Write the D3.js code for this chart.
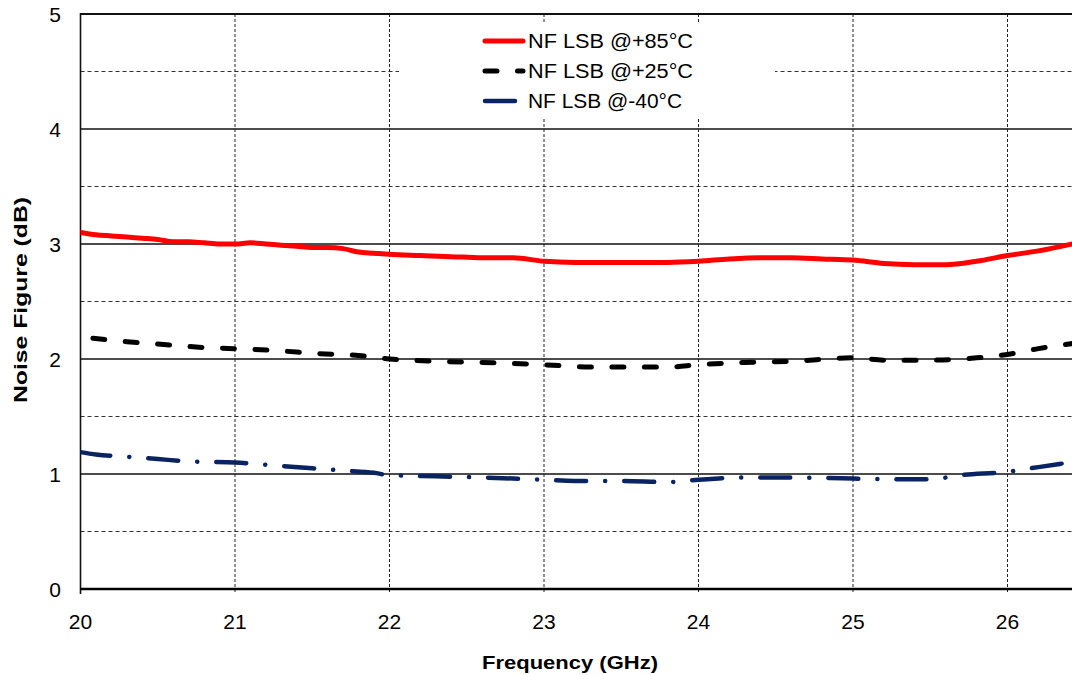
<!DOCTYPE html>
<html><head><meta charset="utf-8">
<script src="https://cdn.jsdelivr.net/npm/d3@7"></script>
<style>body{margin:0;background:#fff}svg{display:block}text{font-family:"Liberation Sans",Arial,sans-serif}</style>
</head><body><svg id="c" width="1072" height="675"></svg>
<script>
const xTicks = [20,21,22,23,24,25,26];
const yTicks = [0,1,2,3,4,5];
const yMinor = [0.5,1.5,2.5,3.5,4.5];
const seriesNames = ["NF LSB @+85°C","NF LSB @+25°C","NF LSB @-40°C"];
const freq85 = [20.0,20.1,20.2,20.3,20.4,20.5,20.6,20.7,20.8,20.9,21.0,21.1,21.2,21.3,21.4,21.5,21.6,21.7,21.8,21.9,22.0,22.2,22.4,22.6,22.8,23.0,23.2,23.4,23.6,23.8,24.0,24.2,24.4,24.6,24.8,25.0,25.2,25.4,25.6,25.8,26.0,26.2,26.45];
const nf85 = [3.10,3.08,3.07,3.06,3.05,3.04,3.02,3.02,3.01,3.00,3.00,3.01,3.00,2.99,2.98,2.97,2.97,2.96,2.93,2.92,2.91,2.90,2.89,2.88,2.88,2.85,2.84,2.84,2.84,2.84,2.85,2.87,2.88,2.88,2.87,2.86,2.83,2.82,2.82,2.85,2.90,2.94,3.01];
const freq25 = [20.08,20.3,20.5,20.8,21.0,21.3,21.5,21.8,22.0,22.3,22.6,23.0,23.3,23.8,24.0,24.3,24.6,25.0,25.2,25.5,25.8,26.0,26.2,26.45];
const nf25 = [2.18,2.15,2.13,2.10,2.09,2.07,2.05,2.03,2.00,1.98,1.97,1.95,1.93,1.93,1.95,1.97,1.98,2.01,1.99,1.99,2.01,2.04,2.09,2.14];
const freq40 = [20.0,20.1,20.3,20.5,20.7,21.0,21.3,21.5,21.7,21.9,22.0,22.3,22.6,23.0,23.2,23.5,23.8,24.0,24.3,24.6,25.0,25.3,25.5,25.7,26.0,26.2,26.45];
const nf40 = [1.19,1.17,1.15,1.13,1.11,1.10,1.07,1.05,1.03,1.01,0.99,0.98,0.97,0.95,0.94,0.94,0.93,0.95,0.97,0.97,0.96,0.955,0.955,0.99,1.02,1.06,1.11];

const svg = d3.select("#c");
const x = d3.scaleLinear().domain([20,26.5]).range([80.5,1084.75]);
const y = d3.scaleLinear().domain([0,5]).range([589,14]);

// minor horizontal dashed
svg.append("g").selectAll("line").data(yMinor).join("line")
  .attr("x1",x(20)).attr("x2",1072).attr("y1",d=>y(d)).attr("y2",d=>y(d))
  .attr("stroke","#333").attr("stroke-width",1).attr("stroke-dasharray","4,3");
// major horizontal solid
svg.append("g").selectAll("line").data(yTicks.filter(d=>d>0&&d<5)).join("line")
  .attr("x1",x(20)).attr("x2",1072).attr("y1",d=>y(d)).attr("y2",d=>y(d))
  .attr("stroke","#111").attr("stroke-width",1.3);
// vertical dashed
svg.append("g").selectAll("line").data(xTicks.slice(1)).join("line")
  .attr("x1",d=>x(d)).attr("x2",d=>x(d)).attr("y1",y(5)).attr("y2",y(0)+5)
  .attr("stroke","#222").attr("stroke-width",1).attr("stroke-dasharray","3,2");
// top border
svg.append("line").attr("x1",x(20)).attr("x2",1072).attr("y1",y(5)).attr("y2",y(5)).attr("stroke","#111").attr("stroke-width",2);
// left axis
svg.append("line").attr("x1",x(20)).attr("x2",x(20)).attr("y1",y(5)-1).attr("y2",y(0)+5).attr("stroke","#111").attr("stroke-width",1.6);
// bottom axis
svg.append("line").attr("x1",x(20)).attr("x2",1072).attr("y1",y(0)).attr("y2",y(0)).attr("stroke","#000").attr("stroke-width",2.6);

// tick labels
svg.append("g").selectAll("text").data(yTicks).join("text")
  .attr("x",61).attr("y",d=>y(d)+7.5).attr("text-anchor","end").attr("font-size",21).attr("fill","#000").text(d=>d);
svg.append("g").selectAll("text").data(xTicks).join("text")
  .attr("x",d=>x(d)).attr("y",629).attr("text-anchor","middle").attr("font-size",21).attr("fill","#000").text(d=>d);

// axis titles
svg.append("text").attr("x",570).attr("y",669).attr("text-anchor","middle").attr("font-size",19).attr("font-weight","bold")
  .attr("textLength",176).attr("lengthAdjust","spacingAndGlyphs").text("Frequency (GHz)");
svg.append("text").attr("transform","translate(27,300) rotate(-90)").attr("text-anchor","middle").attr("font-size",19).attr("font-weight","bold")
  .attr("textLength",206).attr("lengthAdjust","spacingAndGlyphs").text("Noise Figure (dB)");

// legend background
svg.append("rect").attr("x",399).attr("y",22).attr("width",376).attr("height",95).attr("fill","#fff");

const styles = [
  {color:"#ff0000", width:5, dash:null, cap:"round"},
  {color:"#000000", width:5, dash:"12,20.5", cap:"round"},
  {color:"#0a2463", width:4.5, dash:"30,19,0.1,19", cap:"round"}
];
const data = [
  d3.zip(freq85,nf85), d3.zip(freq25,nf25), d3.zip(freq40,nf40)
];
const line = d3.line().x(d=>x(d[0])).y(d=>y(d[1])).curve(d3.curveMonotoneX);
svg.append("clipPath").attr("id","pc").append("rect").attr("x",x(20)).attr("y",0).attr("width",1072-x(20)).attr("height",y(0));
data.forEach((s,i)=>{
  svg.append("path").datum(s).attr("d",line).attr("fill","none")
    .attr("stroke",styles[i].color).attr("stroke-width",styles[i].width)
    .attr("stroke-linecap",styles[i].cap).attr("stroke-linejoin","round")
    .attr("stroke-dasharray",styles[i].dash).attr("clip-path","url(#pc)");
});

// legend
const legY = [41,71,101];
seriesNames.forEach((n,i)=>{
  svg.append("line").attr("x1",485).attr("x2",i===2?520:523).attr("y1",legY[i]).attr("y2",legY[i])
    .attr("stroke",styles[i].color).attr("stroke-width",styles[i].width)
    .attr("stroke-linecap","round").attr("stroke-dasharray",styles[i].dash);
  svg.append("text").attr("x",528).attr("y",legY[i]+7).attr("font-size",20).attr("fill","#000")
    .attr("textLength",i===2?154:165).attr("lengthAdjust","spacingAndGlyphs").text(n);
});
</script></body></html>
